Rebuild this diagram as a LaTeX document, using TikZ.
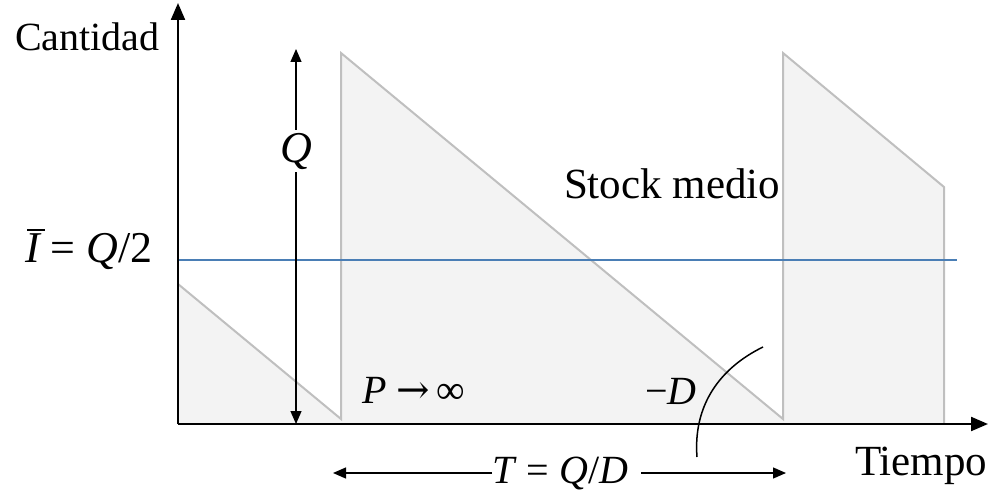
\documentclass[tikz,border=0pt]{standalone}
\usepackage{fontspec}
\setmainfont{Liberation Serif}
\newfontfamily\symfont{DejaVu Serif}
\usetikzlibrary{arrows.meta}
\definecolor{fillgray}{HTML}{F3F3F3}
\definecolor{linegray}{HTML}{BFBFBF}
\definecolor{avgblue}{HTML}{4A7EB5}
\tikzset{
  lab/.style={font=\fontsize{40}{48}\selectfont, inner sep=0pt, outer sep=0pt},
  biglab/.style={font=\fontsize{43}{50}\selectfont, inner sep=0pt, outer sep=0pt},
  mlab/.style={font=\fontsize{44}{52}\selectfont, inner sep=0pt, outer sep=0pt},
  axisline/.style={line width=2.2pt, -{Triangle[length=17pt,width=14pt]}},
  dimline/.style={line width=1.3pt, -{Triangle[length=13pt,width=11pt]}},
  sawline/.style={draw=linegray, line width=2pt, line join=miter},
  avgline/.style={draw=avgblue, line width=2pt},
  curveline/.style={line width=1.5pt},
}
\begin{document}
\begin{tikzpicture}[x=1pt,y=-1pt]
\useasboundingbox (0,0) rectangle (993,492);
% inventory curve
\fill[fillgray] (178,284) -- (341,419) -- (341,53) -- (783,419) -- (783,53) -- (944,187) -- (944,424) -- (178,424) -- cycle;
\draw[sawline] (178,284) -- (341,419) -- (341,53) -- (783,419) -- (783,53) -- (944,187) -- (944,423);
% average stock line
\coordinate (avgL) at (178,260);
\coordinate (avgR) at (957,260);
\draw[avgline] (avgL) -- (avgR);
% axes
\coordinate (O) at (178,424);
\coordinate (ytop) at (178,3);
\coordinate (xend) at (988,424);
\draw[axisline] (O) -- (ytop);
\draw[axisline] (O) -- (xend);
% Q dimension
\coordinate (qtop) at (296,49);
\coordinate (qbot) at (296,424);
\node[mlab, anchor=base, inner sep=3pt] (Q) at (296,162) {\itshape Q};
\draw[dimline] (Q) -- (qtop);
\draw[dimline] (Q) -- (qbot);
% T dimension
\coordinate (tleft) at (333,473);
\coordinate (tright) at (786,473);
\node[lab, anchor=base west] (T) at (492,483) {\itshape T\/\upshape\ = \itshape Q\upshape/\itshape D};
\draw[dimline] (tleft -| T.west) -- (tleft);
\draw[dimline] ([xshift=13pt]tright -| T.east) -- (tright);
% labels
\node[lab, anchor=base west] (cant) at (15,51) {Cantidad};
\node[mlab, anchor=base west] (ibar) at (25,262) {\rlap{\hspace{2pt}\rule[31pt]{18pt}{1.6pt}}{\itshape I}\ = \itshape Q\upshape/2};
\node[biglab, anchor=base west] (stock) at (564,198) {Stock medio};
\node[lab, anchor=base west] (pinf) at (362,403) {\itshape P\upshape\ {\symfont →}\,∞};
\node[lab, anchor=base west] (md) at (645,404) {−\itshape D};
\node[biglab, anchor=base west] (tiempo) at (855,475) {Tiempo};
% slope marker curve
\coordinate (cA) at (697,457);
\coordinate (cB) at (763,347);
\draw[curveline] (cA) .. controls (693,405) and (720,368) .. (cB);
\end{tikzpicture}
\end{document}
